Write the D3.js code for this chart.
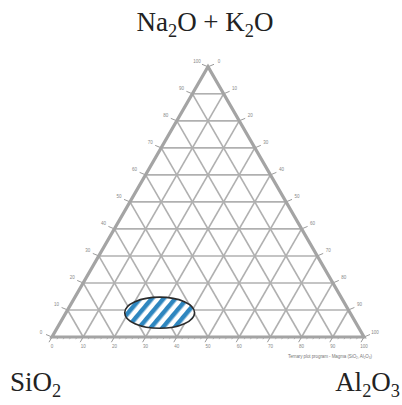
<!DOCTYPE html>
<html><head><meta charset="utf-8">
<script src="https://cdn.jsdelivr.net/npm/d3@7/dist/d3.min.js"></script>
<style>html,body{margin:0;padding:0;background:#fff;}svg{display:block;}</style>
</head><body>
<script>
// ---- data ----
const apexLabels = ["Na₂O + K₂O", "SiO₂", "Al₂O₃"];
const gridValues = [10, 20, 30, 40, 50, 60, 70, 80, 90];
const tickValues = [0, 10, 20, 30, 40, 50, 60, 70, 80, 90, 100];
const minorTickValues = d3.range(0, 101, 2);
// field (ternary %: SiO2, Al2O3, Na2O+K2O) and half-axes in % of side
const fieldCenter = [61, 30, 9];
const fieldRadii = [11.2, 5.0];
const captionText = "Ternary plot program - Magma (SiO₂, Al₂O₃)";

const W = 402, H = 405;
const svg = d3.select("body").append("svg").attr("width", W).attr("height", H);

const xS = d3.scaleLinear().domain([0, 100]).range([52, 364]);
const yS = d3.scaleLinear().domain([0, 100]).range([337, 66.8]);
// a = SiO2 (left), b = Al2O3 (right), c = Na2O+K2O (top)
function P(a, b, c) { return [xS(b + c / 2), yS(c)]; }
const line = d3.line();

const defs = svg.append("defs");
const pat = defs.append("pattern").attr("id", "hatch").attr("patternUnits", "userSpaceOnUse")
  .attr("width", 9).attr("height", 9).attr("patternTransform", "rotate(40)");
pat.append("rect").attr("width", 9).attr("height", 9).attr("fill", "#fff");
pat.append("rect").attr("width", 4.5).attr("height", 9).attr("fill", "#2e86bf");

// grid
const g = svg.append("g");
gridValues.forEach(i => {
  [[P(100 - i, 0, i), P(0, 100 - i, i)],
   [P(100 - i, i, 0), P(0, i, 100 - i)],
   [P(i, 100 - i, 0), P(i, 0, 100 - i)]].forEach(seg => {
    g.append("path").attr("d", line(seg)).attr("stroke", "#b0b0b0")
      .attr("stroke-width", 1.6).attr("fill", "none");
  });
});

// ticks
const tickG = svg.append("g").attr("stroke", "#9a9a9a").attr("stroke-width", 1);
const labG = svg.append("g").attr("font-family", "Liberation Sans, sans-serif")
  .attr("font-size", 4.5).attr("fill", "#888").attr("text-anchor", "middle");
tickValues.forEach(v => {
  // bottom edge (Al2O3 along base)
  let p = P(100 - v, v, 0);
  tickG.append("line").attr("x1", p[0]).attr("y1", p[1]).attr("x2", p[0] - 3).attr("y2", p[1] + 5.2);
  labG.append("text").attr("x", p[0]).attr("y", p[1] + 11).text(v);
  // left edge (Na2O+K2O)
  p = P(100 - v, 0, v);
  tickG.append("line").attr("x1", p[0]).attr("y1", p[1]).attr("x2", p[0] - 6).attr("y2", p[1] - 2.5);
  labG.append("text").attr("x", p[0] - 11).attr("y", p[1] - 3.5).text(v);
  // right edge (SiO2)
  p = P(0, 100 - v, v);
  tickG.append("line").attr("x1", p[0]).attr("y1", p[1]).attr("x2", p[0] + 6).attr("y2", p[1] - 2.5);
  labG.append("text").attr("x", p[0] + 11).attr("y", p[1] - 3.5).text(100 - v);
});
minorTickValues.forEach(v => {
  const p = P(100 - v, v, 0);
  tickG.append("line").attr("x1", p[0]).attr("y1", p[1]).attr("x2", p[0] - 1.2).attr("y2", p[1] + 2.2)
    .attr("stroke-width", 0.8);
});

// outline
svg.append("path").attr("d", line([P(100, 0, 0), P(0, 100, 0), P(0, 0, 100)]) + "Z")
  .attr("fill", "none").attr("stroke", "#a4a4a4").attr("stroke-width", 3.2)
  .attr("stroke-linejoin", "miter");

// field ellipse
const side = xS(100) - xS(0);
const c = P(...fieldCenter);
svg.append("ellipse").attr("cx", c[0]).attr("cy", c[1])
  .attr("rx", fieldRadii[0] / 100 * side).attr("ry", fieldRadii[1] / 100 * side)
  .attr("fill", "url(#hatch)").attr("stroke", "#2b2b2b").attr("stroke-width", 1.6);

// caption
svg.append("text").attr("x", 288).attr("y", 358).attr("font-family", "Liberation Sans, sans-serif")
  .attr("font-size", 4.5).attr("fill", "#777").attr("textLength", 84).text(captionText);

// apex labels: digits rendered as subscripts
function chem(sel, str) {
  const parts = str.match(/[₀-₉]+|[^₀-₉]+/g);
  let shifted = false;
  parts.forEach(t => {
    if (/[₀-₉]/.test(t)) {
      const digits = t.replace(/[₀-₉]/g, ch => String(ch.charCodeAt(0) - 0x2080));
      sel.append("tspan").attr("font-size", "0.68em").attr("dy", "0.3em").text(digits);
      shifted = true;
    } else {
      const ts = sel.append("tspan").text(t);
      if (shifted) { ts.attr("dy", "-0.204em"); shifted = false; }
    }
  });
}
const lab = svg.append("g").attr("font-family", "Liberation Serif, Times New Roman, serif")
  .attr("fill", "#222").attr("font-size", 27);
chem(lab.append("text").attr("x", 205).attr("y", 31).attr("text-anchor", "middle"), apexLabels[0]);
chem(lab.append("text").attr("x", 10).attr("y", 391).attr("text-anchor", "start"), apexLabels[1]);
chem(lab.append("text").attr("x", 400).attr("y", 391).attr("text-anchor", "end"), apexLabels[2]);
</script>
</body></html>
